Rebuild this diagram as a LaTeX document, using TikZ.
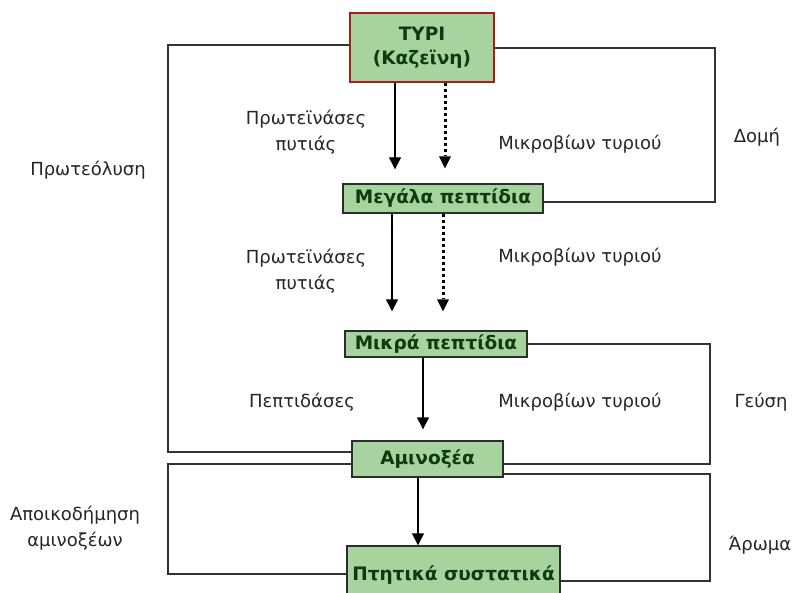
\documentclass[tikz,border=0pt]{standalone}
\usepackage{fontspec}
\setmainfont{DejaVu Sans}
\usetikzlibrary{arrows.meta,calc}
\definecolor{boxfill}{RGB}{166,211,158}
\definecolor{boxtext}{RGB}{12,60,12}
\definecolor{boxline}{RGB}{45,45,45}
\definecolor{redline}{RGB}{165,30,30}
\tikzset{
  stage/.style={draw=boxline, line width=1.4pt, fill=boxfill, text=boxtext,
    font=\fontsize{18.5}{24}\selectfont\bfseries, inner sep=0pt, align=center},
  lbl/.style={font=\fontsize{18}{26}\selectfont, align=center, inner sep=0pt, text=black!85},
  link/.style={line width=1.3pt, draw=black!80},
  arr/.style={line width=1.4pt, -{Triangle[width=12pt,length=12pt]}},
  dotarr/.style={line width=3pt, dash pattern=on 3pt off 3pt,
    -{Triangle[width=12pt,length=12pt,line width=0pt]}}
}
\begin{document}
\begin{tikzpicture}[x=1pt,y=-1pt]
\clip (0,0) rectangle (795,593);
\fill[white] (0,0) rectangle (795,593);

% stages of cheese ripening
\node[stage, draw=redline, minimum width=144pt, minimum height=69pt] (tyri) at (422,47.5) {ΤΥΡΙ\\(Καζεϊνη)};
\node[stage, minimum width=200pt, minimum height=29pt] (mega) at (443,198.5) {Μεγάλα πεπτίδια};
\node[stage, minimum width=182pt, minimum height=26pt] (mikra) at (436,344) {Μικρά πεπτίδια};
\node[stage, minimum width=151pt, minimum height=36pt] (amino) at (427.5,459) {Αμινοξέα};
\node[stage, minimum width=213pt, minimum height=54pt, text depth=0pt] (ptit) at (453.5,573) {Πτητικά συστατικά};

% feedback loops
\draw[link] (tyri.west |- 0,45) -- (168,45) |- (amino.west |- 0,452);
\draw[link] (tyri.east |- 0,48) -- (715,48) |- (mega.east |- 0,202);
\draw[link] (mikra.east |- 0,344) -- (710,344) |- (amino.east |- 0,464);
\draw[link] (amino.west |- 0,464) -- (168,464) |- (ptit.west |- 0,574);
\draw[link] (amino.east |- 0,474) -- (710,474) |- (ptit.east |- 0,581);

% breakdown arrows
\draw[arr, shorten >=14pt] (tyri.south -| 395,0) -- (mega.north -| 395,0);
\draw[dotarr, shorten >=15pt] (tyri.south -| 445,0) -- (mega.north -| 445,0);
\draw[arr, shorten >=19pt] (mega.south -| 392,0) -- (mikra.north -| 392,0);
\draw[dotarr, shorten >=19pt] (mega.south -| 443,0) -- (mikra.north -| 443,0);
\draw[arr, shorten >=11pt] (mikra.south -| 423,0) -- (amino.north -| 423,0);
\draw[arr] (amino.south -| 418,0) -- (ptit.north -| 418,0);

% labels
\node[lbl] (p1) at (306,132) {Πρωτεϊνάσες\\πυτιάς};
\node[lbl] (m1) at (580,144) {Μικροβίων τυριού};
\node[lbl] (p2) at (306,271) {Πρωτεϊνάσες\\πυτιάς};
\node[lbl] (m2) at (580,257) {Μικροβίων τυριού};
\node[lbl] (p3) at (302,402) {Πεπτιδάσες};
\node[lbl] (m3) at (580,402) {Μικροβίων τυριού};
\node[lbl] (prot) at (88,170) {Πρωτεόλυση};
\node[lbl] (apo) at (75,528) {Αποικοδήμηση\\αμινοξέων};
\node[lbl] (domi) at (757,137) {Δομή};
\node[lbl] (geusi) at (761,402) {Γεύση};
\node[lbl] (aroma) at (760,545) {Άρωμα};
\end{tikzpicture}
\end{document}
